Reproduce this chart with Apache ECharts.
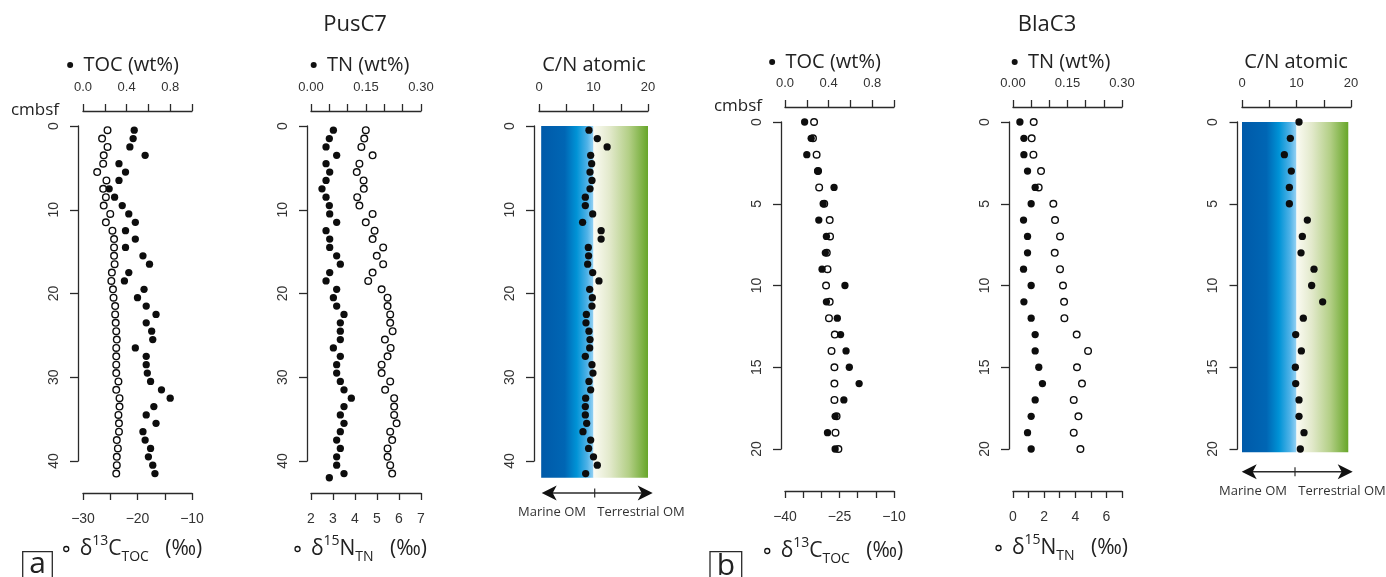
<!DOCTYPE html>
<html lang="en">
<head>
<meta charset="UTF-8">
<title>PusC7 / BlaC3 organic matter profiles</title>
<style>
  html, body { margin: 0; padding: 0; background: #fff; }
  #chart { width: 1386px; height: 577px; }
</style>
</head>
<body>
<div id="chart"></div>
<script src="https://cdn.jsdelivr.net/npm/echarts@6/dist/echarts.min.js"></script>
<script>
// ---------- PusC7 (depth in cmbsf) ----------
var depthPus = [0.5, 1.5, 2.5, 3.5, 4.5, 5.5, 6.5, 7.5, 8.5, 9.5, 10.5, 11.5, 12.5, 13.5,
  14.5, 15.5, 16.5, 17.5, 18.5, 19.5, 20.5, 21.5, 22.5, 23.5, 24.5, 25.5, 26.5, 27.5,
  28.5, 29.5, 30.5, 31.5, 32.5, 33.5, 34.5, 35.5, 36.5, 37.5, 38.5, 39.5, 40.5, 41.5];
var tocPus = [0.47, 0.46, 0.43, 0.57, 0.33, 0.39, 0.33, 0.24, 0.29, 0.36, 0.42, 0.48, 0.39, 0.48,
  0.39, 0.55, 0.61, 0.42, 0.38, 0.56, 0.50, 0.58, 0.67, 0.58, 0.63, 0.64, 0.48, 0.58,
  0.58, 0.59, 0.62, 0.72, 0.80, 0.65, 0.58, 0.67, 0.55, 0.57, 0.62, 0.60, 0.64, 0.66];
var d13cPus = [-25.5, -26.5, -25.5, -26.2, -26.3, -27.4, -25.7, -26.3, -25.8, -26.2, -25.0, -25.8, -24.6, -24.3,
  -24.3, -24.3, -24.2, -24.7, -24.8, -24.5, -24.4, -24.1, -24.1, -24.0, -23.9, -23.8, -23.9, -23.9,
  -23.9, -23.9, -23.5, -23.9, -23.3, -23.3, -23.5, -23.4, -23.4, -23.8, -23.6, -23.8, -23.8, -23.9];
var depthPusTN = [0.5, 1.5, 2.5, 3.5, 4.5, 5.5, 6.5, 7.5, 8.5, 9.5, 10.5, 11.5, 12.5, 13.5,
  14.5, 15.5, 16.5, 17.5, 18.5, 19.5, 20.5, 21.5, 22.5, 23.5, 24.5, 25.5, 26.5, 27.5,
  28.5, 29.5, 30.5, 31.5, 32.5, 33.5, 34.5, 35.5, 36.5, 37.5, 38.5, 39.5, 40.5, 41.5, 42];
var tnPus = [0.061, 0.050, 0.041, 0.070, 0.041, 0.051, 0.041, 0.030, 0.041, 0.050, 0.051, 0.070, 0.041, 0.051,
  0.051, 0.070, 0.080, 0.051, 0.041, 0.070, 0.061, 0.070, 0.090, 0.080, 0.080, 0.080, 0.061, 0.080,
  0.070, 0.070, 0.080, 0.090, 0.110, 0.090, 0.080, 0.090, 0.080, 0.070, 0.080, 0.070, 0.070, 0.090, 0.050];
var d15nPus = [4.49, 4.42, 4.29, 4.80, 4.20, 4.08, 4.39, 4.40, 4.10, 4.20, 4.80, 4.49, 4.89, 4.80,
  5.28, 4.99, 5.28, 4.80, 4.60, 5.21, 5.48, 5.48, 5.60, 5.60, 5.71, 5.36, 5.62, 5.48,
  5.21, 5.21, 5.60, 5.37, 5.78, 5.78, 5.78, 5.89, 5.60, 5.69, 5.48, 5.48, 5.60, 5.69];
var cnPus = [9.17, 10.7, 12.5, 9.48, 9.66, 9.36, 9.72, 9.36, 8.5, 8.5, 9.85, 8.0, 11.4, 11.4,
  9.05, 9.1, 8.93, 9.85, 11.0, 9.3, 9.79, 9.72, 8.69, 8.62, 9.17, 9.36, 9.3, 8.5,
  9.72, 9.9, 9.17, 9.48, 8.56, 8.5, 8.5, 8.75, 8.07, 9.48, 9.1, 10.0, 10.7, 8.56];

// ---------- BlaC3 ----------
var depthBla = [0, 1, 2, 3, 4, 5, 6, 7, 8, 9, 10, 11, 12, 13, 14, 15, 16, 17, 18, 19, 20];
var tocBla = [0.18, 0.24, 0.20, 0.30, 0.45, 0.35, 0.31, 0.38, 0.37, 0.34, 0.55, 0.38, 0.48, 0.51,
  0.56, 0.59, 0.68, 0.54, 0.46, 0.39, 0.46];
var d13cBla = [-32.0, -32.3, -31.3, -30.9, -30.6, -29.2, -27.7, -27.6, -28.5, -28.3, -28.7, -27.7, -27.9, -26.3,
  -27.2, -26.4, -26.4, -26.4, -25.8, -26.1, -25.3];
var tnBla = [0.019, 0.030, 0.030, 0.040, 0.061, 0.050, 0.029, 0.040, 0.040, 0.029, 0.050, 0.030, 0.050, 0.061,
  0.061, 0.071, 0.081, 0.061, 0.050, 0.040, 0.050];
var d15nBla = [1.33, 1.20, 1.31, 1.80, 1.65, 2.59, 2.70, 3.02, 2.68, 3.02, 3.21, 3.28, 3.30, 4.09,
  4.82, 4.11, 4.43, 3.90, 4.20, 3.90, 4.33];
var cnBla = [10.46, 8.87, 7.77, 9.05, 8.69, 8.69, 11.99, 11.07, 10.83, 13.21, 12.78, 14.8, 11.25, 9.85,
  10.89, 9.79, 9.85, 10.46, 10.46, 11.38, 10.70];

// C/N source bands: [xFrom, xTo, depthFrom, depthTo]
var marineBandPus = [0.4, 10, 0, 42];
var terrBandPus = [10, 20, 0, 42];
var marineBandBla = [0, 10, 0, 20.2];
var terrBandBla = [10, 19.5, 0, 20.2];

// tick labels actually printed
var tocTickLabels = ['0.0', '0.4', '0.8'];
var tnTickLabels = ['0.00', '0.15', '0.30'];
var cnTickLabels = ['0', '10', '20'];
var d13cPusTickLabels = ['-30', '-20', '-10'];
var d15nPusTickLabels = ['2', '3', '4', '5', '6', '7'];
var d13cBlaTickLabels = ['-40', '-25', '-10'];
var d15nBlaTickLabels = ['0', '2', '4', '6'];
var depthPusTickLabels = ['0', '10', '20', '30', '40'];
var depthBlaTickLabels = ['0', '5', '10', '15', '20'];

var AX = '#2a2a2a';
var NUM_FONT = '"Liberation Sans", Arial, sans-serif';
var TXT_FONT = '"Open Sans", "Noto Sans", sans-serif';

var marineStops = [
  { offset: 0, color: '#005aa9' }, { offset: 0.45, color: '#0066b4' },
  { offset: 0.68, color: '#0093d6' }, { offset: 0.88, color: '#4fb2e7' },
  { offset: 1, color: '#98d3f4' }
];
var terrStops = [
  { offset: 0, color: '#fbfbf3' }, { offset: 0.3, color: '#e2e9cb' },
  { offset: 0.65, color: '#b3cf86' }, { offset: 1, color: '#67a629' }
];

function tickFmt(labels, digits) {
  return function (v) {
    var s = v.toFixed(digits);
    return labels.indexOf(s) >= 0 ? s.replace('-', '\u2212') : '';
  };
}

function xAxis(grid, pos, min, max, interval, offset, labels, digits) {
  return {
    type: 'value', gridIndex: grid, position: pos, offset: offset,
    min: min, max: max, interval: interval,
    axisLine: { show: true, onZero: false, lineStyle: { color: AX, width: 1.3 } },
    axisTick: { show: true, length: 7, lineStyle: { color: AX, width: 1.3 } },
    axisLabel: {
      formatter: tickFmt(labels, digits), margin: pos === 'top' ? 17 : 19,
      fontSize: pos === 'top' ? 13 : 14, color: '#333', fontFamily: NUM_FONT
    },
    splitLine: { show: false }
  };
}

function yAxis(grid, max, interval, offset, labels) {
  return {
    type: 'value', gridIndex: grid, position: 'left', offset: offset, inverse: true,
    min: 0, max: max, interval: interval,
    axisLine: { show: true, onZero: false, lineStyle: { color: AX, width: 1.3 } },
    axisTick: { show: true, length: 8, lineStyle: { color: AX, width: 1.3 } },
    axisLabel: {
      formatter: tickFmt(labels, 0), rotate: 90, margin: 17,
      fontSize: 14, color: '#333', fontFamily: NUM_FONT
    },
    splitLine: { show: false }
  };
}

function pairs(vals, depths) {
  return vals.map(function (v, i) { return [v, depths[i]]; });
}

function dots(xi, yi, vals, depths) {
  return {
    type: 'scatter', xAxisIndex: xi, yAxisIndex: yi, data: pairs(vals, depths),
    symbol: 'circle', symbolSize: 7.3, clip: false, silent: true, z: 4,
    itemStyle: { color: '#0d0d0d', opacity: 1 }
  };
}

function rings(xi, yi, vals, depths) {
  return {
    type: 'scatter', xAxisIndex: xi, yAxisIndex: yi, data: pairs(vals, depths),
    symbol: 'circle', symbolSize: 6.6, clip: false, silent: true, z: 3,
    itemStyle: { color: 'rgba(255,255,255,0)', borderColor: '#0d0d0d', borderWidth: 1.4, opacity: 1 }
  };
}

function band(xi, yi, b, stops) {
  return {
    type: 'custom', xAxisIndex: xi, yAxisIndex: yi, clip: false, silent: true, z: 1,
    data: [b],
    renderItem: function (params, api) {
      var p0 = api.coord([api.value(0), api.value(2)]);
      var p1 = api.coord([api.value(1), api.value(3)]);
      return {
        type: 'rect',
        shape: { x: p0[0], y: p0[1], width: p1[0] - p0[0], height: p1[1] - p0[1] },
        style: { fill: new echarts.graphic.LinearGradient(0, 0, 1, 0, stops) }
      };
    }
  };
}

function label(x, y, text, size, extra) {
  var st = {
    text: text, fontSize: size, fontFamily: TXT_FONT, fill: '#222',
    textAlign: 'center', textVerticalAlign: 'middle', align: 'center', verticalAlign: 'middle'
  };
  if (extra) { for (var k in extra) st[k] = extra[k]; }
  return { type: 'text', x: x, y: y, silent: true, style: st };
}

var topRich = {
  dot: { width: 6, height: 6, borderRadius: 3, backgroundColor: '#111', verticalAlign: 'middle' },
  t: { fontSize: 20, fontFamily: TXT_FONT, fill: '#222' }
};
var botRich = {
  ring: { width: 5, height: 5, borderRadius: 3, borderColor: '#111', borderWidth: 1.3, verticalAlign: 'middle' },
  g: { fontSize: 21, fontFamily: TXT_FONT, fill: '#222', lineHeight: 30 },
  sup: { fontSize: 14, fontFamily: TXT_FONT, fill: '#222', lineHeight: 17, verticalAlign: 'top' },
  sub: { fontSize: 14, fontFamily: TXT_FONT, fill: '#222', lineHeight: 15, verticalAlign: 'bottom' }
};

function topTitle(x, y, name) {
  return label(x, y, '{dot|}{t|  ' + name + '}', 20, { rich: topRich });
}
function botTitle(x, y, sup, base, sub) {
  return label(x, y, '{ring|}{g|  \u03b4}{sup|' + sup + '}{g|' + base + '}{sub|' + sub + '}{g|   (\u2030)}', 21, { rich: botRich });
}

function arrow(x0, x1, y, xm) {
  return [
    { type: 'line', silent: true, shape: { x1: x0 + 10, y1: y, x2: x1 - 10, y2: y }, style: { stroke: AX, lineWidth: 1.6 } },
    { type: 'line', silent: true, shape: { x1: xm, y1: y - 4.5, x2: xm, y2: y + 4.5 }, style: { stroke: AX, lineWidth: 1.2 } },
    { type: 'polygon', silent: true, shape: { points: [[x0, y], [x0 + 15, y - 7.5], [x0 + 11, y], [x0 + 15, y + 7.5]] }, style: { fill: '#111' } },
    { type: 'polygon', silent: true, shape: { points: [[x1, y], [x1 - 15, y - 7.5], [x1 - 11, y], [x1 - 15, y + 7.5]] }, style: { fill: '#111' } }
  ];
}

function panelLetter(x, y, w, text, ty) {
  return [
    { type: 'rect', silent: true, shape: { x: x, y: y, width: w, height: 40 }, style: { fill: 'none', stroke: AX, lineWidth: 1.3 } },
    label(x + w / 2, ty, text, 30)
  ];
}

var gridBase = { containLabel: false, outerBoundsMode: 'none' };
function grid(l, t, w, h) {
  return Object.assign({ left: l, top: t, width: w, height: h }, gridBase);
}

var chart = echarts.init(document.getElementById('chart'));

var graphics = [
  label(355, 25, 'PusC7', 22),
  label(1047, 25, 'BlaC3', 22),
  label(35, 110, 'cmbsf', 17),
  label(738, 106, 'cmbsf', 17),
  topTitle(123, 65, 'TOC (wt%)'),
  topTitle(360, 65, 'TN (wt%)'),
  label(594, 65, 'C/N atomic', 20),
  topTitle(825, 62, 'TOC (wt%)'),
  topTitle(1061, 62, 'TN (wt%)'),
  label(1296, 62, 'C/N atomic', 20),
  botTitle(133, 549, '13', 'C', 'TOC'),
  botTitle(361, 549, '15', 'N', 'TN'),
  botTitle(834, 551, '13', 'C', 'TOC'),
  botTitle(1062, 548, '15', 'N', 'TN'),
  label(552, 512, 'Marine OM', 13, { fill: '#333' }),
  label(641, 512, 'Terrestrial OM', 13, { fill: '#333' }),
  label(1253, 491, 'Marine OM', 13, { fill: '#333' }),
  label(1342, 491, 'Terrestrial OM', 13, { fill: '#333' })
].concat(arrow(541.7, 652.7, 493, 594.7))
 .concat(arrow(1241.7, 1352.7, 471.7, 1295))
 .concat(panelLetter(22.7, 551.7, 29.6, 'a', 564))
 .concat(panelLetter(710, 551.7, 31.7, 'b', 566));

var option = {
  backgroundColor: '#fff',
  animation: false,
  grid: [
    grid(83, 126, 109, 335),
    grid(311, 126, 110, 335),
    grid(539, 126, 109, 335),
    grid(785, 122, 109, 327),
    grid(1013, 122, 109, 327),
    grid(1242, 122, 109, 327)
  ],
  xAxis: [
    xAxis(0, 'top', 0, 1, 0.2, 15, tocTickLabels, 1),
    xAxis(0, 'bottom', -30, -10, 5, 32, d13cPusTickLabels, 0),
    xAxis(1, 'top', 0, 0.3, 0.05, 15, tnTickLabels, 2),
    xAxis(1, 'bottom', 2, 7, 1, 32, d15nPusTickLabels, 0),
    xAxis(2, 'top', 0, 20, 5, 15, cnTickLabels, 0),
    xAxis(3, 'top', 0, 1, 0.2, 15, tocTickLabels, 1),
    xAxis(3, 'bottom', -40, -10, 5, 42, d13cBlaTickLabels, 0),
    xAxis(4, 'top', 0, 0.3, 0.05, 15, tnTickLabels, 2),
    xAxis(4, 'bottom', 0, 7, 1, 42, d15nBlaTickLabels, 0),
    xAxis(5, 'top', 0, 20, 5, 15, cnTickLabels, 0)
  ],
  yAxis: [
    yAxis(0, 40, 10, 5, depthPusTickLabels),
    yAxis(1, 40, 10, 4, depthPusTickLabels),
    yAxis(2, 40, 10, 5, depthPusTickLabels),
    yAxis(3, 20, 5, 4, depthBlaTickLabels),
    yAxis(4, 20, 5, 4, depthBlaTickLabels),
    yAxis(5, 20, 5, 4.5, depthBlaTickLabels)
  ],
  series: [
    rings(1, 0, d13cPus, depthPus),
    dots(0, 0, tocPus, depthPus),
    rings(3, 1, d15nPus, depthPus),
    dots(2, 1, tnPus, depthPusTN),
    band(4, 2, marineBandPus, marineStops),
    band(4, 2, terrBandPus, terrStops),
    dots(4, 2, cnPus, depthPus),
    rings(6, 3, d13cBla, depthBla),
    dots(5, 3, tocBla, depthBla),
    rings(8, 4, d15nBla, depthBla),
    dots(7, 4, tnBla, depthBla),
    band(9, 5, marineBandBla, marineStops),
    band(9, 5, terrBandBla, terrStops),
    dots(9, 5, cnBla, depthBla)
  ],
  graphic: graphics
};

chart.setOption(option);
</script>
</body>
</html>
